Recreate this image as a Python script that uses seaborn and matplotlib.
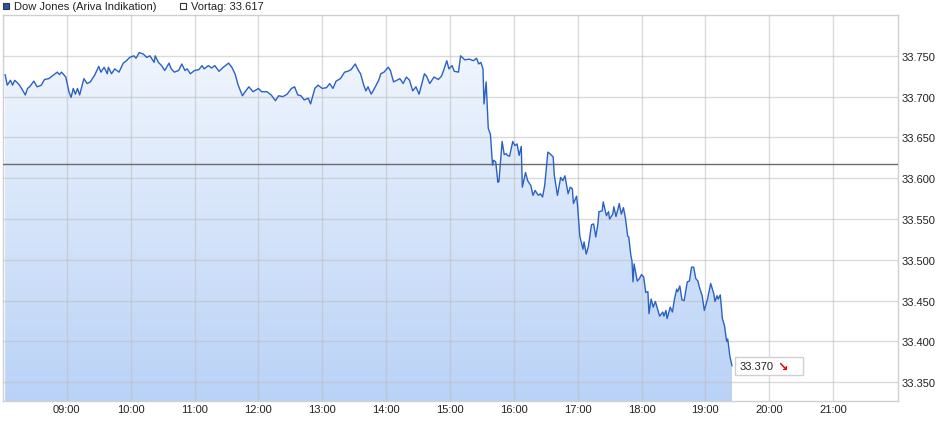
import numpy as np
import pandas as pd
import matplotlib
matplotlib.use("Agg")
import matplotlib.pyplot as plt
import seaborn as sns
from matplotlib.colors import LinearSegmentedColormap
from matplotlib.patches import Rectangle
from matplotlib.transforms import IdentityTransform

# ---------------- data ----------------
minutes_since_0800 = [
    2, 4, 7, 9, 11, 15, 17, 21, 23, 25, 29, 32, 36, 39, 43, 46, 51, 53, 55, 59,
    62, 64, 66, 68, 70, 72, 76, 79, 82, 86, 90, 92, 95, 98, 99, 102, 105, 109, 113, 116,
    119, 123, 125, 128, 132, 135, 138, 142, 143, 146, 149, 152, 156, 158, 161, 165, 168, 171, 173, 176,
    180, 184, 187, 189, 193, 196, 199, 203, 207, 212, 215, 218, 221, 225, 227, 231,
    235, 240, 243, 248, 252, 256, 259, 263, 267, 271, 274, 277, 280, 283, 287, 289, 293, 296, 300, 304,
    307, 310, 313, 317, 321, 324, 327, 331, 334, 336, 339, 341, 343, 346, 349, 353, 355, 358, 362, 364,
    367, 370, 373, 376, 379, 382, 385, 388, 391, 396, 398, 401, 405, 409, 412, 414, 417, 419, 422, 424,
    428, 430, 434, 438, 442, 445, 447, 449,
    451, 452, 454, 456, 458, 460, 461, 463, 465, 466, 469, 471, 473, 474, 476, 479, 481, 483, 485, 487,
    488, 491, 493, 496, 498, 500, 503, 505, 507, 509, 512, 514, 517, 518, 521, 524, 526, 528, 531, 533,
    535, 536, 539, 540,
    542, 545, 546, 548, 550, 553, 555, 557, 559, 560, 563, 564, 567, 569, 570, 573, 574, 576, 578, 579,
    581, 583, 585, 587, 588, 590, 591, 592, 593, 596, 598, 600, 602, 604, 606, 607, 609, 611, 613, 615,
    617, 620, 621, 623, 624, 627, 629, 631, 633, 634, 636, 638, 640, 643, 645, 647, 649, 651, 653, 654,
    657, 659, 662, 665, 668, 669, 671, 672, 674, 676, 678, 680, 681, 683, 685,
]
prices = [
    33.727, 33.714, 33.720, 33.714, 33.720, 33.715, 33.711, 33.702, 33.710, 33.712,
    33.719, 33.712, 33.714, 33.721, 33.722, 33.725, 33.730, 33.727, 33.730, 33.724,
    33.706, 33.699, 33.710, 33.703, 33.710, 33.702, 33.722, 33.716, 33.718, 33.726,
    33.737, 33.730, 33.736, 33.728, 33.736, 33.728, 33.734, 33.730, 33.741, 33.744,
    33.748, 33.750, 33.747, 33.754, 33.752, 33.748, 33.750, 33.742, 33.750, 33.742,
    33.738, 33.732, 33.741, 33.734, 33.730, 33.732, 33.740, 33.732, 33.734, 33.728,
    33.732, 33.733, 33.738, 33.734, 33.738, 33.735, 33.738, 33.731, 33.736, 33.741,
    33.736, 33.728, 33.714, 33.701, 33.705, 33.712,
    33.706, 33.710, 33.706, 33.706, 33.702, 33.695, 33.701, 33.700, 33.703, 33.710,
    33.712, 33.702, 33.701, 33.696, 33.698, 33.691, 33.710, 33.714, 33.710, 33.711,
    33.716, 33.710, 33.719, 33.722, 33.730, 33.731, 33.733, 33.740, 33.732, 33.728,
    33.714, 33.707, 33.712, 33.703, 33.710, 33.720, 33.728, 33.730, 33.736, 33.732,
    33.718, 33.720, 33.722, 33.716, 33.724, 33.720, 33.707, 33.712, 33.703, 33.728,
    33.725, 33.716, 33.724, 33.721, 33.725, 33.732, 33.744, 33.734, 33.738, 33.731,
    33.730, 33.750, 33.745, 33.746, 33.744, 33.747, 33.740, 33.742,
    33.734, 33.691, 33.718, 33.661, 33.654, 33.616, 33.622, 33.620, 33.595, 33.596,
    33.645, 33.629, 33.630, 33.628, 33.627, 33.645, 33.640, 33.642, 33.628, 33.639,
    33.589, 33.607, 33.597, 33.591, 33.579, 33.585, 33.579, 33.581, 33.577, 33.591,
    33.632, 33.630, 33.626, 33.604, 33.579, 33.601, 33.597, 33.603, 33.581, 33.589,
    33.587, 33.569, 33.578, 33.565,
    33.529, 33.513, 33.522, 33.507, 33.516, 33.543, 33.544, 33.528, 33.544, 33.559,
    33.560, 33.571, 33.554, 33.559, 33.550, 33.556, 33.565, 33.553, 33.563, 33.569,
    33.556, 33.564, 33.550, 33.529, 33.528, 33.505, 33.499, 33.473, 33.495, 33.474,
    33.477, 33.482, 33.479, 33.460, 33.461, 33.434, 33.452, 33.442, 33.449, 33.440,
    33.431, 33.436, 33.431, 33.438, 33.428, 33.442, 33.436, 33.452, 33.464, 33.461,
    33.468, 33.451, 33.450, 33.473, 33.474, 33.491, 33.491, 33.477, 33.474, 33.468,
    33.456, 33.438, 33.452, 33.471, 33.458, 33.449, 33.456, 33.452, 33.457, 33.428,
    33.419, 33.400, 33.403, 33.382, 33.370,
]
previous_close = 33.617
last_price = 33.370
series_label = "Dow Jones (Ariva Indikation)"
previous_label = "Vortag: 33.617"
hour_ticks = [540, 600, 660, 720, 780, 840, 900, 960, 1020, 1080, 1140, 1200, 1260]
hour_labels = ["09:00", "10:00", "11:00", "12:00", "13:00", "14:00", "15:00",
               "16:00", "17:00", "18:00", "19:00", "20:00", "21:00"]
price_ticks = [33.35, 33.40, 33.45, 33.50, 33.55, 33.60, 33.65, 33.70, 33.75]
price_labels = ["33.350", "33.400", "33.450", "33.500", "33.550", "33.600",
                "33.650", "33.700", "33.750"]

df = pd.DataFrame({"minute": np.array(minutes_since_0800) + 480, "price": prices})

# ---------------- style ----------------
sns.set_theme(style="white")
plt.rcParams["font.family"] = ["Liberation Sans", "DejaVu Sans"]
plt.rcParams["font.size"] = 8

W, H = 940, 435
fig = plt.figure(figsize=(W / 100, H / 100), dpi=100)
left, right, top, bottom = 3, 898, 16, 402
ax = fig.add_axes([left / W, (H - bottom) / H, (right - left) / W, (bottom - top) / H])

XMIN, XMAX = 480, 1321
YMIN, YMAX = 33.327, 33.800

line_color = "#2a62c4"
text_color = "#222222"

# gradient fill under the line
cmap = LinearSegmentedColormap.from_list("fillgrad", ["#f6f9fe", "#b9d2f7"])
grad = np.linspace(0, 1, 256).reshape(-1, 1)
im = ax.imshow(grad, cmap=cmap, aspect="auto", origin="upper",
               extent=[XMIN, XMAX, YMIN, YMAX], zorder=1, interpolation="bicubic")
poly = ax.fill_between(df["minute"], df["price"], YMIN, color="none", lw=0)
im.set_clip_path(poly.get_paths()[0], transform=ax.transData)

sns.lineplot(data=df, x="minute", y="price", ax=ax, color=line_color,
             linewidth=1.0, zorder=4)

ax.axhline(previous_close, color="#6b6b6b", lw=1.0, zorder=3)

ax.set_xlim(XMIN, XMAX)
ax.set_ylim(YMIN, YMAX)

ax.set_xticks(hour_ticks)
ax.set_xticklabels(hour_labels)
ax.set_yticks(price_ticks)
ax.set_yticklabels(price_labels)
ax.yaxis.tick_right()
ax.tick_params(axis="x", length=0, pad=2.5, labelsize=8, labelcolor=text_color)
ax.tick_params(axis="y", length=0, pad=2.5, labelsize=8, labelcolor=text_color)
ax.set_xlabel("")
ax.set_ylabel("")

ax.set_axisbelow(False)
ax.grid(True, color="#bdbdbd", alpha=0.55, lw=1.0, zorder=2)
for s in ax.spines.values():
    s.set_color("#d0d0d0")
    s.set_linewidth(1.0)

# last-price box
fig.canvas.draw()
px, py = ax.transData.transform((df["minute"].iloc[-1], last_price))
box = Rectangle((px + 3, py - 9), 68, 18, transform=IdentityTransform(),
                facecolor="white", edgecolor="#d0d0d0", lw=1, zorder=10)
fig.patches.append(box)
fig.text(px + 8, py, f"{last_price:.3f}", transform=IdentityTransform(),
         ha="left", va="center", fontsize=8, color=text_color, zorder=11)
fig.text(px + 45, py - 1, "\u2198", transform=IdentityTransform(),
         ha="left", va="center", fontsize=9, color="#e00000",
         family=["DejaVu Sans"], fontweight="bold", zorder=11)

# legend at the top
fig.patches.append(Rectangle((3, H - 10), 6, 6, transform=IdentityTransform(),
                             facecolor="#2457b5", edgecolor="#333333", lw=0.8))
fig.text(14, H - 7, series_label, transform=IdentityTransform(),
         ha="left", va="center", fontsize=8, color=text_color)
fig.patches.append(Rectangle((180, H - 10), 6, 6, transform=IdentityTransform(),
                             facecolor="white", edgecolor="#333333", lw=0.8))
fig.text(191, H - 7, previous_label, transform=IdentityTransform(),
         ha="left", va="center", fontsize=8, color=text_color)

fig.savefig("out.png", dpi=100, facecolor="white")
